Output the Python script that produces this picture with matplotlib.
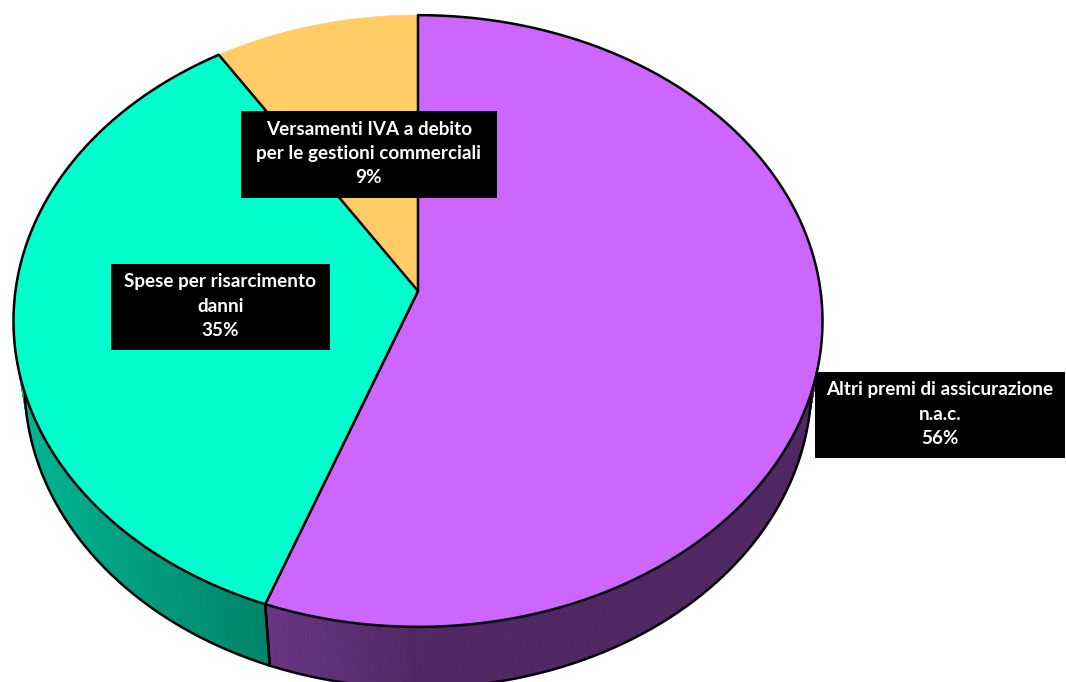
import numpy as np
import matplotlib.pyplot as plt
from matplotlib.patches import Polygon, Rectangle

# --- data ---
categories = ["Altri premi di assicurazione\nn.a.c.",
              "Spese per risarcimento\ndanni",
              "Versamenti IVA a debito\nper le gestioni commerciali"]
values = [55.6, 35.4, 9.0]
colors = ["#CC66FF", "#00FFCC", "#FFCC66"]
outlined = [True, True, False]

# --- 3D view (pixel space) ---
CX, CY = 418, 291
ELEV = np.radians(48.8)
DIST = 6.717
K = 2704
THICK = 0.25

# label boxes: (x0, y0, x1, y1) in pixels
label_boxes = [(815, 372, 1065, 458), (111, 264, 330, 350), (241, 111, 497, 198)]


def project(t_deg, r=1.0, z=0.0):
    t = np.radians(t_deg)
    u = r * np.sin(t)
    v = r * np.cos(t)
    se, ce = np.sin(ELEV), np.cos(ELEV)
    depth = DIST + v * ce - z * se
    x = CX + K * u / depth
    y = CY - K * (v * se + z * ce) / depth
    return x, y


def shade(t_deg):
    s = max(0.0, -np.sin(np.radians(t_deg)))
    return 0.385 + 0.34 * s ** 0.9


fig = plt.figure(figsize=(10.66, 6.82), dpi=100)
ax = fig.add_axes([0, 0, 1, 1])
ax.set_xlim(0, 1066)
ax.set_ylim(682, 0)
ax.axis("off")

total = sum(values)
bounds = np.concatenate([[0], np.cumsum(values) / total * 360])

# sides (front half only)
for i, col in enumerate(colors):
    a0, a1 = max(bounds[i], 90), min(bounds[i + 1], 270)
    if a1 <= a0:
        continue
    base = np.array(plt.matplotlib.colors.to_rgb(col))
    ts = np.linspace(a0, a1, int((a1 - a0) * 2) + 2)
    for t0, t1 in zip(ts[:-1], ts[1:]):
        c = np.clip(base * shade((t0 + t1) / 2), 0, 1)
        pts = [project(t0), project(t1), project(t1, z=-THICK), project(t0, z=-THICK)]
        ax.add_patch(Polygon(pts, closed=True, facecolor=c, edgecolor=c, lw=0.6, zorder=1))
    # bottom edge of the side
    bx, by = project(ts, z=-THICK)
    ax.plot(bx, by, color="black", lw=1.8, zorder=2, solid_capstyle="round")
    # vertical edges at slice boundaries
    for t in (a0, a1):
        if 90 < t < 270:
            x0, y0 = project(t)
            x1, y1 = project(t, z=-THICK)
            ax.plot([x0, x1], [y0, y1], color="black", lw=1.8, zorder=2)

# top faces, unoutlined first
order = sorted(range(len(values)), key=lambda i: outlined[i])
for i in order:
    ts = np.linspace(bounds[i], bounds[i + 1], 300)
    ax_, ay_ = project(ts)
    pts = [(CX, CY)] + list(zip(ax_, ay_))
    ax.add_patch(Polygon(pts, closed=True, facecolor=colors[i],
                         edgecolor="black" if outlined[i] else colors[i],
                         lw=1.8 if outlined[i] else 0.5, joinstyle="round", zorder=3))

# labels
for cat, val, (x0, y0, x1, y1) in zip(categories, values, label_boxes):
    ax.add_patch(Rectangle((x0, y0), x1 - x0, y1 - y0, facecolor="black",
                           edgecolor="none", zorder=4))
    ax.text((x0 + x1) / 2, (y0 + y1) / 2 - 1, f"{cat}\n{val / total * 100:.0f}%",
            ha="center", va="center", color="white", fontsize=13.6,
            fontweight="bold", family="Lato", linespacing=1.5, zorder=5)

fig.savefig("out.png", dpi=100)
